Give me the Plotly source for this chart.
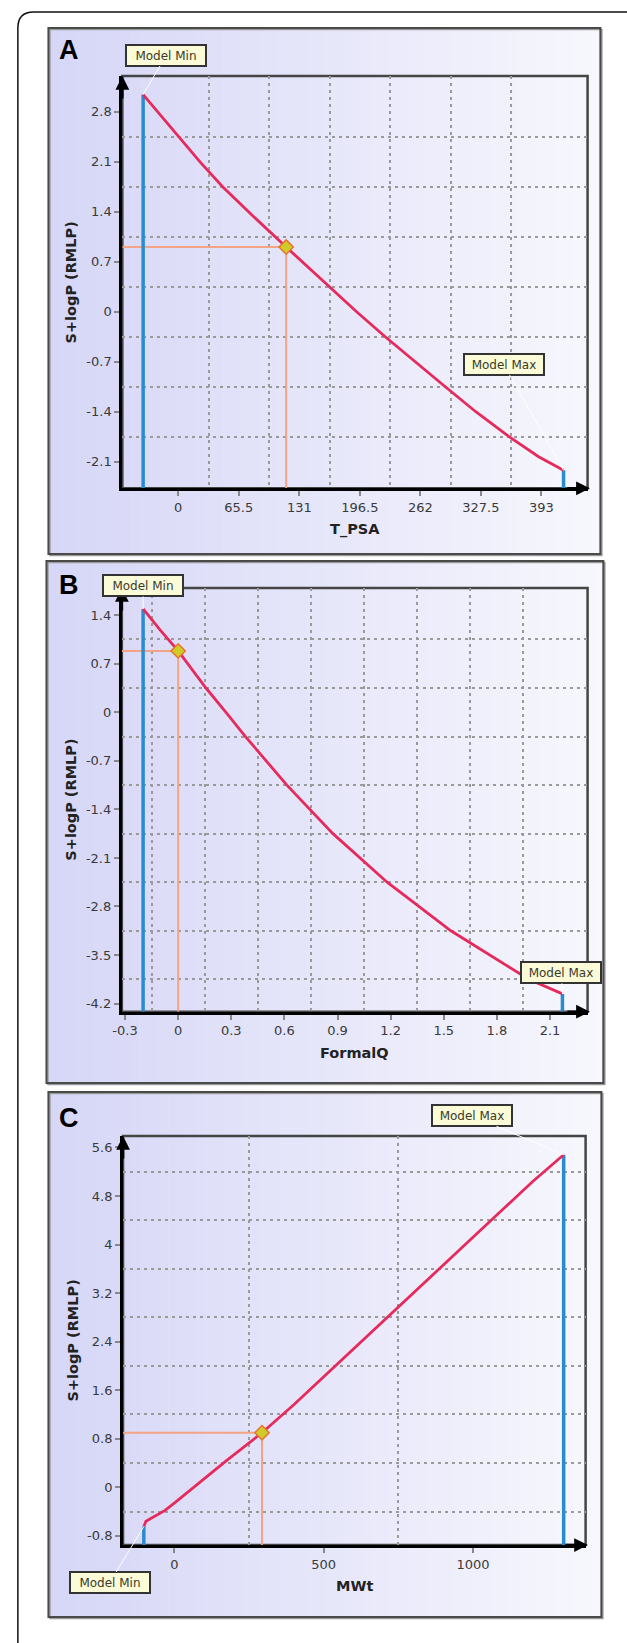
import plotly.graph_objects as go

W, H = 627, 1643

# ---------------- data ----------------
# Panel A : S+logP vs T_PSA
a_x = [-38, -20, 0, 24, 48, 80, 116.8, 140, 163, 193, 224, 256, 289, 322, 358, 390, 417]
a_y = [3.04, 2.76, 2.45, 2.09, 1.75, 1.35, 0.906, 0.63, 0.35, 0.0, -0.35, -0.70, -1.05, -1.40, -1.75, -2.03, -2.22]
a_point_x = [116.8]
a_point_y = [0.906]
a_xticks = [0, 65.5, 131, 196.5, 262, 327.5, 393]
a_xlabels = ["0", "65.5", "131", "196.5", "262", "327.5", "393"]
a_yticks = [-2.1, -1.4, -0.7, 0, 0.7, 1.4, 2.1, 2.8]
a_ylabels = ["-2.1", "-1.4", "-0.7", "0", "0.7", "1.4", "2.1", "2.8"]
a_xrange = [-60.5, 443]
a_yrange = [-2.472, 3.30]

# Panel B : S+logP vs FormalQ
b_x = [-0.198, -0.1, 0.0, 0.157, 0.27, 0.38, 0.614, 0.874, 1.18, 1.54, 1.98, 2.17]
b_y = [1.49, 1.18, 0.885, 0.35, 0.0, -0.35, -1.05, -1.75, -2.45, -3.15, -3.85, -4.06]
b_point_x = [0.0]
b_point_y = [0.885]
b_xticks = [-0.3, 0, 0.3, 0.6, 0.9, 1.2, 1.5, 1.8, 2.1]
b_xlabels = ["-0.3", "0", "0.3", "0.6", "0.9", "1.2", "1.5", "1.8", "2.1"]
b_yticks = [-4.2, -3.5, -2.8, -2.1, -1.4, -0.7, 0, 0.7, 1.4]
b_ylabels = ["-4.2", "-3.5", "-2.8", "-2.1", "-1.4", "-0.7", "0", "0.7", "1.4"]
b_xrange = [-0.318, 2.312]
b_yrange = [-4.317, 1.792]

# Panel C : S+logP vs MWt
c_x = [-102, -95, -31, 0, 172.6, 293.7, 400, 500, 600, 700, 800, 900, 1000, 1100, 1200, 1303.6]
c_y = [-0.645, -0.56, -0.38, -0.26, 0.43, 0.9, 1.36, 1.82, 2.28, 2.74, 3.2, 3.66, 4.12, 4.58, 5.04, 5.48]
c_point_x = [293.7]
c_point_y = [0.9]
c_xticks = [0, 500, 1000]
c_xlabels = ["0", "500", "1000"]
c_yticks = [-0.8, 0, 0.8, 1.6, 2.4, 3.2, 4.0, 4.8, 5.6]
c_ylabels = ["-0.8", "0", "0.8", "1.6", "2.4", "3.2", "4", "4.8", "5.6"]
c_xrange = [-171.6, 1377]
c_yrange = [-0.951, 5.789]

panel_letters = ["A", "B", "C"]
x_titles = ["T_PSA", "FormalQ", "MWt"]
y_title = "S+logP (RMLP)"
label_min = "Model Min"
label_max = "Model Max"

# ---------------- styles / geometry (pixels) ----------------
CURVE = "#e62a5c"
BLUE = "#2b8bd0"
ORANGE = "#f4a385"
GRID = "#9a9a9a"
TICKFONT = dict(family="DejaVu Sans", size=13, color="#3a3a3a")
TITLEFONT = dict(family="DejaVu Sans", size=14.5, color="#222222", weight="bold")
LABELFONT = dict(family="DejaVu Sans", size=12, color="#3a3a2a")

panels = [
    dict(x=a_x, y=a_y, px=a_point_x, py=a_point_y, xt=a_xticks, xl=a_xlabels, yt=a_yticks, yl=a_ylabels,
         xr=a_xrange, yr=a_yrange, box=(40, 28, 600, 554), plot=(115, 76, 587, 488.3), letter_y=49.5,
         min_off=(23, -39), max_off=(-60, -106)),
    dict(x=b_x, y=b_y, px=b_point_x, py=b_point_y, xt=b_xticks, xl=b_xlabels, yt=b_yticks, yl=b_ylabels,
         xr=b_xrange, yr=b_yrange, box=(38, 561, 603, 1083), plot=(114.5, 588, 587, 1011.7), letter_y=584.5,
         min_off=(0, -23), max_off=(-1, -21)),
    dict(x=c_x, y=c_y, px=c_point_x, py=c_point_y, xt=c_xticks, xl=c_xlabels, yt=c_yticks, yl=c_ylabels,
         xr=c_xrange, yr=c_yrange, box=(40, 1092, 601, 1617), plot=(115.7, 1136, 585, 1545), letter_y=1118,
         min_off=(-34, 56), max_off=(-92, -39)),
]


def fx(px):
    return px / W


def fy(py):
    return 1 - py / H


def mids(v):
    s = sorted(v)
    return [(s[i] + s[i + 1]) / 2 for i in range(len(s) - 1)]


fig = go.Figure()
shapes = []
annotations = []
layout_axes = {}

# outer rounded border
outer = (f"M {fx(9)},{fy(1643)} L {fx(9)},{fy(28)} Q {fx(9)},{fy(12)} {fx(25)},{fy(12)} L {fx(627)},{fy(12)}")
shapes.append(dict(type="path", xref="paper", yref="paper", path=outer,
                   line=dict(color="#111111", width=1.5), layer="below"))

c_left = (214, 214, 247)
c_right = (247, 247, 253)
NS = 60

for i, p in enumerate(panels, start=1):
    xa = "x" if i == 1 else f"x{i}"
    ya = "y" if i == 1 else f"y{i}"
    bx0, by0, bx1, by1 = p["box"]
    # gradient background strips
    sw = (bx1 - bx0) / NS
    for k in range(NS):
        t = k / (NS - 1)
        col = tuple(round(c_left[j] + (c_right[j] - c_left[j]) * t) for j in range(3))
        shapes.append(dict(type="rect", xref="paper", yref="paper",
                           x0=fx(bx0 + k * sw), x1=fx(min(bx1, bx0 + (k + 1) * sw + 0.6)),
                           y0=fy(by1), y1=fy(by0), line=dict(width=0),
                           fillcolor=f"rgb{col}", layer="below"))
    # subtle shadow + border
    shapes.append(dict(type="rect", xref="paper", yref="paper", x0=fx(bx0 + 1.5), x1=fx(bx1 + 1.5),
                       y0=fy(by1 + 1.5), y1=fy(by0 + 1.5), line=dict(color="#9a9a9a", width=1.5),
                       layer="below"))
    shapes.append(dict(type="rect", xref="paper", yref="paper", x0=fx(bx0), x1=fx(bx1),
                       y0=fy(by1), y1=fy(by0), line=dict(color="#4a4a4a", width=2), layer="below"))

    px0, py0, px1, py1 = p["plot"]
    xkey = "xaxis" if i == 1 else f"xaxis{i}"
    ykey = "yaxis" if i == 1 else f"yaxis{i}"
    common = dict(showline=True, linecolor="black", linewidth=3, ticks="outside", ticklen=5,
                  tickcolor="#888888", tickwidth=1.5, tickfont=TICKFONT, showgrid=False,
                  zeroline=False, tickmode="array", fixedrange=True)
    layout_axes[xkey] = dict(domain=[fx(px0), fx(px1)], range=p["xr"], anchor=ya,
                             tickvals=p["xt"], ticktext=p["xl"],
                             minor=dict(tickmode="array", tickvals=mids(p["xt"]), showgrid=True,
                                        gridcolor=GRID, gridwidth=1.6, griddash="3px,4px", ticks=""),
                             **common)
    layout_axes[ykey] = dict(domain=[fy(py1), fy(py0)], range=p["yr"], anchor=xa,
                             tickvals=p["yt"], ticktext=p["yl"],
                             minor=dict(tickmode="array", tickvals=mids(p["yt"]), showgrid=True,
                                        gridcolor=GRID, gridwidth=1.6, griddash="3px,4px", ticks=""),
                             **common)

    # frame (top / right)
    shapes.append(dict(type="rect", xref=f"{xa} domain", yref=f"{ya} domain", x0=0, x1=1, y0=0, y1=1,
                       line=dict(color="#454545", width=2.5), layer="below"))

    xmin = p["xr"][0]
    ymin = p["yr"][0]
    # orange guide lines
    fig.add_trace(go.Scatter(x=[xmin, p["px"][0], p["px"][0]], y=[p["py"][0], p["py"][0], ymin],
                             mode="lines", line=dict(color=ORANGE, width=2), xaxis=xa, yaxis=ya,
                             showlegend=False, hoverinfo="skip"))
    # blue model-domain limits
    fig.add_trace(go.Scatter(x=[p["x"][0], p["x"][0], None, p["x"][-1], p["x"][-1]],
                             y=[ymin, p["y"][0], None, ymin, p["y"][-1]],
                             mode="lines", line=dict(color=BLUE, width=3.5), xaxis=xa, yaxis=ya,
                             showlegend=False, hoverinfo="skip"))
    # curve
    fig.add_trace(go.Scatter(x=p["x"], y=p["y"], mode="lines", line=dict(color=CURVE, width=2.8),
                             xaxis=xa, yaxis=ya, showlegend=False))
    # current point
    fig.add_trace(go.Scatter(x=p["px"], y=p["py"], mode="markers",
                             marker=dict(symbol="diamond", size=11, color="#cfcc2a",
                                         line=dict(color="#e8742c", width=1.5)),
                             xaxis=xa, yaxis=ya, showlegend=False))

    # axis arrows
    annotations.append(dict(xref=f"{xa} domain", yref=f"{ya} domain", x=0, y=1.0, ax=0, ay=24,
                            showarrow=True, arrowhead=2, arrowsize=1.1, arrowwidth=2.5,
                            arrowcolor="black", text=""))
    annotations.append(dict(xref=f"{xa} domain", yref=f"{ya} domain", x=1.005, y=0, ax=-24, ay=0,
                            showarrow=True, arrowhead=2, arrowsize=1.1, arrowwidth=2.5,
                            arrowcolor="black", text=""))

    # titles
    annotations.append(dict(xref=f"{xa} domain", yref=f"{ya} domain", x=0.5, y=0, yshift=-41,
                            xanchor="center", yanchor="middle", showarrow=False,
                            text=x_titles[i - 1], font=TITLEFONT))
    annotations.append(dict(xref=f"{xa} domain", yref=f"{ya} domain", x=0, y=0.5, xshift=-51,
                            xanchor="center", yanchor="middle", showarrow=False, textangle=-90,
                            text=y_title, font=TITLEFONT))
    # panel letter
    annotations.append(dict(xref="paper", yref="paper", x=fx(49), y=fy(p["letter_y"]),
                            xanchor="left", yanchor="middle", showarrow=False,
                            text=f"<b>{panel_letters[i - 1]}</b>",
                            font=dict(family="Liberation Sans, Arial", size=27, color="black")))
    # model min / max labels
    for (lx, ly, off, txt) in [(p["x"][0], p["y"][0], p["min_off"], label_min),
                               (p["x"][-1], p["y"][-1], p["max_off"], label_max)]:
        annotations.append(dict(xref=xa, yref=ya, x=lx, y=ly, ax=off[0], ay=off[1],
                                showarrow=True, arrowhead=0, arrowwidth=1, arrowcolor="white",
                                text=txt, font=LABELFONT, bgcolor="#fbfbd8", bordercolor="#333333",
                                borderwidth=2, borderpad=2, width=74, height=15))

fig.update_layout(width=W, height=H, margin=dict(l=0, r=0, t=0, b=0),
                  paper_bgcolor="white", plot_bgcolor="rgba(0,0,0,0)",
                  shapes=shapes, annotations=annotations, showlegend=False,
                  **layout_axes)

fig.write_html("out.html")
